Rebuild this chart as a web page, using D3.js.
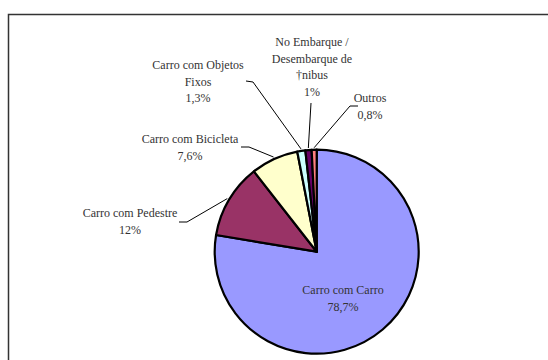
<!DOCTYPE html>
<html>
<head>
<meta charset="utf-8">
<script src="https://cdn.jsdelivr.net/npm/d3@7"></script>
<style>
  html, body { margin: 0; padding: 0; background: #fff; }
  svg { display: block; }
  text { font-family: "Times New Roman", "Liberation Serif", "DejaVu Serif", serif; }
</style>
</head>
<body>
<svg id="chart" width="548" height="360"></svg>
<script>
// Accident types (clockwise from 12 o'clock) and their shares in percent
const categories = [
  "Carro com Carro",
  "Carro com Pedestre",
  "Carro com Bicicleta",
  "Carro com Objetos Fixos",
  "No Embarque / Desembarque de †nibus",
  "Outros"
];
const values = [78.7, 12, 7.6, 1.3, 1, 0.8];
const valueLabels = ["78,7%", "12%", "7,6%", "1,3%", "1%", "0,8%"];
const colors = ["#9999FF", "#993366", "#FFFFCC", "#CCFFFF", "#660066", "#FF8080"];

// Label text lines and placement (outside labels get a leader line)
const labelLines = [
  ["Carro com Carro"],
  ["Carro com Pedestre"],
  ["Carro com Bicicleta"],
  ["Carro com Objetos", "Fixos"],
  ["No Embarque /", "Desembarque de", "†nibus"],
  ["Outros"]
];
const labelLayout = [
  { x: 343, y: 290, inside: true },
  { x: 130, y: 213, hook: [179, 222, 187, 222] },
  { x: 190, y: 139, hook: [241, 147, 249, 147] },
  { x: 198, y: 65,  hook: [246, 81, 253, 82] },
  { x: 312, y: 42,  hook: null, lineStart: [311, 103] },
  { x: 370, y: 98,  hook: [358, 106, 350, 106] }
];

const svg = d3.select("#chart");
const cx = 316.7, cy = 251.7, r = 102;
const lineH = 16.5;

// Outer frame (continues past the right and bottom edges)
svg.append("rect")
  .attr("x", 8.5).attr("y", 14.5)
  .attr("width", 560).attr("height", 360)
  .attr("fill", "none")
  .attr("stroke", "#333")
  .attr("stroke-width", 1.5);

const data = categories.map((c, i) => ({ name: c, value: values[i], i }));

const pie = d3.pie().sort(null).value(d => d.value).startAngle(0).endAngle(2 * Math.PI);
const arcs = pie(data);
const arc = d3.arc().innerRadius(0).outerRadius(r);

const g = svg.append("g").attr("transform", `translate(${cx},${cy})`);

g.selectAll("path.slice")
  .data(arcs)
  .enter().append("path")
  .attr("class", "slice")
  .attr("d", arc)
  .attr("fill", d => colors[d.data.i])
  .attr("stroke", "#000")
  .attr("stroke-width", 2.2)
  .attr("stroke-linejoin", "round");

// Point on the rim at a slice's mid-angle, in page coordinates
function rimPoint(a, rad) {
  const m = (a.startAngle + a.endAngle) / 2;
  return [cx + rad * Math.sin(m), cy - rad * Math.cos(m)];
}

arcs.forEach((a, k) => {
  const L = labelLayout[k];
  const lines = labelLines[k].concat([valueLabels[k]]);

  if (!L.inside) {
    const end = rimPoint(a, r + 2);
    const pts = L.hook
      ? [[L.hook[0], L.hook[1]], [L.hook[2], L.hook[3]], end]
      : [L.lineStart, end];
    svg.append("path")
      .attr("d", d3.line()(pts))
      .attr("fill", "none")
      .attr("stroke", "#000")
      .attr("stroke-width", 1);
  }

  const t = svg.append("text")
    .attr("text-anchor", "middle")
    .attr("font-size", 12)
    .attr("fill", "#333");
  lines.forEach((s, j) => {
    t.append("tspan")
      .attr("x", L.x)
      .attr("y", L.y + j * lineH)
      .attr("dy", "0.35em")
      .text(s);
  });
});
</script>
</body>
</html>
